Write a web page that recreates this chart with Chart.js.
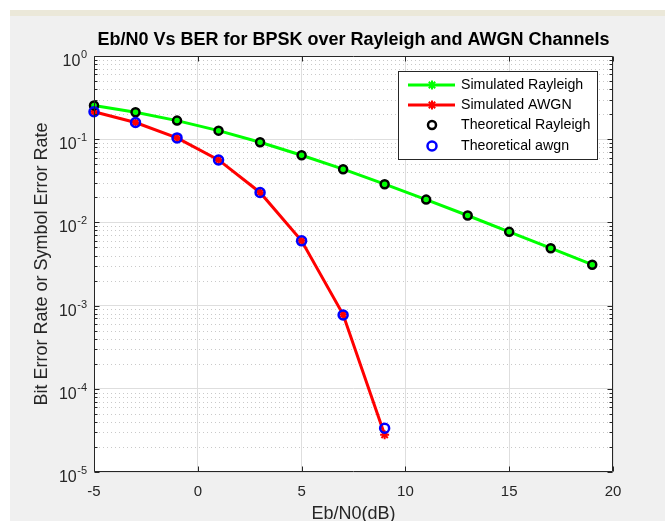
<!DOCTYPE html>
<html><head><meta charset="utf-8">
<script src="https://cdn.jsdelivr.net/npm/chart.js@4.4.0/dist/chart.umd.min.js"></script>
<style>html,body{margin:0;padding:0;background:#fff;overflow:hidden}canvas{display:block}</style>
</head><body>
<canvas id="c" width="665" height="521" style="width:665px;height:521px"></canvas>
<script>
// ---- data ----
const ebnoRayleigh = [-5, -3, -1, 1, 3, 5, 7, 9, 11, 13, 15, 17, 19];
const ebnoAwgn = [-5, -3, -1, 1, 3, 5, 7, 9];
const simRayleigh = [0.2548, 0.2112, 0.1672, 0.1268, 0.0918, 0.0641, 0.0436, 0.0288, 0.0188, 0.0121, 0.0077, 0.0049, 0.0031];
const simAwgn = [0.2134, 0.1587, 0.1035, 0.0564, 0.0229, 0.0060, 0.00078, 0.000028];
const theoRayleigh = [0.2549, 0.2111, 0.1673, 0.1267, 0.0919, 0.0642, 0.0435, 0.0288, 0.0188, 0.0121, 0.0077, 0.0049, 0.0031];
const theoAwgn = [0.2135, 0.1585, 0.1036, 0.0563, 0.0229, 0.0060, 0.00077, 0.0000336];
const xTicks = [-5, 0, 5, 10, 15, 20];
const yExponents = [0, -1, -2, -3, -4, -5];
const seriesLabels = ['Simulated Rayleigh', 'Simulated AWGN', 'Theoretical Rayleigh', 'Theoretical awgn'];
const titleText = 'Eb/N0 Vs BER for BPSK over Rayleigh and AWGN Channels';
const xLabel = 'Eb/N0(dB)';
const yLabel = 'Bit Error Rate or Symbol Error Rate';

const FONT = '"Liberation Sans", Arial, Helvetica, sans-serif';
const AX = '#262626';
Chart.defaults.font.family = FONT;

const pts = (xs, ys) => xs.map((x, i) => ({x: x, y: ys[i]}));

const matlabPlugin = {
  id: 'matlab',
  beforeDraw(chart) {
    const ctx = chart.ctx, a = chart.chartArea;
    ctx.save();
    ctx.fillStyle = '#ffffff'; ctx.fillRect(0, 0, chart.width, chart.height);
    ctx.fillStyle = '#ebe8d9'; ctx.fillRect(10, 10, chart.width - 10, 6);
    ctx.fillStyle = '#f0f0f0'; ctx.fillRect(10, 16, chart.width - 10, chart.height - 16);
    ctx.fillStyle = '#ffffff'; ctx.fillRect(a.left, a.top, a.right - a.left, a.bottom - a.top);
    ctx.restore();
  },
  beforeDatasetsDraw(chart) {
    const ctx = chart.ctx, a = chart.chartArea, ys = chart.scales.y;
    ctx.save();
    ctx.strokeStyle = '#c9c9c9'; ctx.lineWidth = 1; ctx.setLineDash([1, 3]);
    ctx.beginPath();
    yExponents.forEach(e => {
      if (e === 0) return;
      for (let k = 2; k <= 9; k++) {
        const py = Math.round(ys.getPixelForValue(k * Math.pow(10, e))) + 0.5;
        ctx.moveTo(a.left + 1, py); ctx.lineTo(a.right - 1, py);
      }
    });
    ctx.stroke();
    ctx.restore();
  },
  afterDatasetsDraw(chart) {
    const ctx = chart.ctx, a = chart.chartArea, xs = chart.scales.x, ys = chart.scales.y;
    ctx.save();
    // frame and inward ticks
    ctx.strokeStyle = AX; ctx.lineWidth = 1; ctx.setLineDash([]);
    const L = a.left + 0.5, R = a.right - 0.5, T = a.top + 0.5, B = a.bottom - 0.5;
    ctx.beginPath();
    ctx.rect(L, T, R - L, B - T);
    xTicks.forEach(v => {
      const px = Math.round(xs.getPixelForValue(v)) + 0.5;
      ctx.moveTo(px, B); ctx.lineTo(px, B - 5);
      ctx.moveTo(px, T); ctx.lineTo(px, T + 5);
    });
    yExponents.forEach(e => {
      const py = Math.round(ys.getPixelForValue(Math.pow(10, e))) + 0.5;
      ctx.moveTo(L, py); ctx.lineTo(L + 5, py);
      ctx.moveTo(R, py); ctx.lineTo(R - 5, py);
      if (e === 0) return;
      for (let k = 2; k <= 9; k++) {
        const q = Math.round(ys.getPixelForValue(k * Math.pow(10, e))) + 0.5;
        ctx.moveTo(L, q); ctx.lineTo(L + 3, q);
        ctx.moveTo(R, q); ctx.lineTo(R - 3, q);
      }
    });
    ctx.stroke();

    // y tick labels 10^e
    ctx.fillStyle = AX; ctx.textAlign = 'right'; ctx.textBaseline = 'alphabetic';
    const edge = a.left - 7;
    yExponents.forEach(e => {
      const py = ys.getPixelForValue(Math.pow(10, e));
      const sup = String(e);
      ctx.font = '11px ' + FONT;
      const sw = ctx.measureText(sup).width;
      ctx.fillText(sup, edge, py + 2);
      ctx.font = '16px ' + FONT;
      ctx.fillText('10', edge - sw - 0.5, py + 10);
    });

    // legend
    const bx = a.right - 214.5, by = a.top + 15.5, bw = 199, bh = 88;
    ctx.fillStyle = '#ffffff';
    ctx.fillRect(bx, by, bw, bh);
    ctx.strokeStyle = AX; ctx.lineWidth = 1;
    ctx.strokeRect(bx, by, bw, bh);
    const rows = [13.5, 33.5, 53.5, 74.5];
    const dsOrder = [0, 1, 2, 3];
    ctx.font = '14.2px ' + FONT;
    ctx.textAlign = 'left'; ctx.textBaseline = 'middle';
    dsOrder.forEach((di, r) => {
      const ds = chart.data.datasets[di];
      const cy = by + rows[r];
      if (ds.showLine !== false) {
        ctx.strokeStyle = ds.borderColor; ctx.lineWidth = ds.borderWidth;
        ctx.beginPath(); ctx.moveTo(bx + 9.5, cy); ctx.lineTo(bx + 56.5, cy); ctx.stroke();
      }
      ctx.strokeStyle = ds.pointBorderColor; ctx.fillStyle = ds.pointBackgroundColor;
      ctx.lineWidth = ds.pointBorderWidth;
      Chart.helpers.drawPoint(ctx, {pointStyle: ds.pointStyle, radius: ds.pointRadius, borderWidth: ds.pointBorderWidth, rotation: 0}, bx + 33.5, cy);
      ctx.fillStyle = '#000000';
      ctx.fillText(ds.label, bx + 62.5, cy + 0.5);
    });
    ctx.restore();
  }
};

new Chart(document.getElementById('c'), {
  type: 'scatter',
  data: {
    datasets: [
      {label: seriesLabels[0], data: pts(ebnoRayleigh, simRayleigh), showLine: true, borderColor: '#00ff00', borderWidth: 3,
       pointStyle: 'star', pointRadius: 4.5, pointBorderWidth: 2, pointBorderColor: '#00ff00', pointBackgroundColor: '#00ff00', clip: false, order: 3},
      {label: seriesLabels[1], data: pts(ebnoAwgn, simAwgn), showLine: true, borderColor: '#ff0000', borderWidth: 3,
       pointStyle: 'star', pointRadius: 4.5, pointBorderWidth: 2, pointBorderColor: '#ff0000', pointBackgroundColor: '#ff0000', clip: false, order: 2},
      {label: seriesLabels[2], data: pts(ebnoRayleigh, theoRayleigh), showLine: false, borderColor: '#000000',
       pointStyle: 'circle', pointRadius: 4, pointBorderWidth: 2.5, pointBorderColor: '#000000', pointBackgroundColor: 'rgba(0,0,0,0)', clip: false, order: 1},
      {label: seriesLabels[3], data: pts(ebnoAwgn, theoAwgn), showLine: false, borderColor: '#0000ff',
       pointStyle: 'circle', pointRadius: 4.5, pointBorderWidth: 2.5, pointBorderColor: '#0000ff', pointBackgroundColor: 'rgba(0,0,0,0)', clip: false, order: 0}
    ]
  },
  options: {
    responsive: false, devicePixelRatio: 1, animation: false, events: [],
    layout: {padding: {left: 0, right: 52, top: 0, bottom: 0}},
    plugins: {
      legend: {display: false}, tooltip: {enabled: false},
      title: {display: true, text: titleText, color: '#000000', fullSize: false,
              font: {size: 18, weight: 'bold', family: FONT, lineHeight: 1.2}, padding: {top: 29, bottom: 5.4}}
    },
    scales: {
      x: {
        type: 'linear', min: -5, max: 20,
        afterBuildTicks: s => { s.ticks = xTicks.map(v => ({value: v})); },
        afterFit: s => { s.height = 49; },
        grid: {color: '#dedede', lineWidth: 1, drawTicks: false},
        border: {display: false},
        ticks: {color: AX, font: {size: 15, family: FONT}, padding: 10.5, maxRotation: 0},
        title: {display: true, text: xLabel, color: AX, font: {size: 18, family: FONT, lineHeight: 0.6}, padding: {top: 0, bottom: 1.8}}
      },
      y: {
        type: 'logarithmic', min: 1e-5, max: 1,
        afterBuildTicks: s => { s.ticks = yExponents.map(e => ({value: Math.pow(10, e)})); },
        afterFit: s => { s.width = 94; },
        grid: {color: '#dedede', lineWidth: 1, drawTicks: false},
        border: {display: false},
        ticks: {display: false},
        title: {display: true, text: yLabel, color: AX, font: {size: 18, family: FONT, lineHeight: 1.2}, padding: {top: 31, bottom: 0}}
      }
    }
  },
  plugins: [matlabPlugin]
});
</script>
</body></html>
